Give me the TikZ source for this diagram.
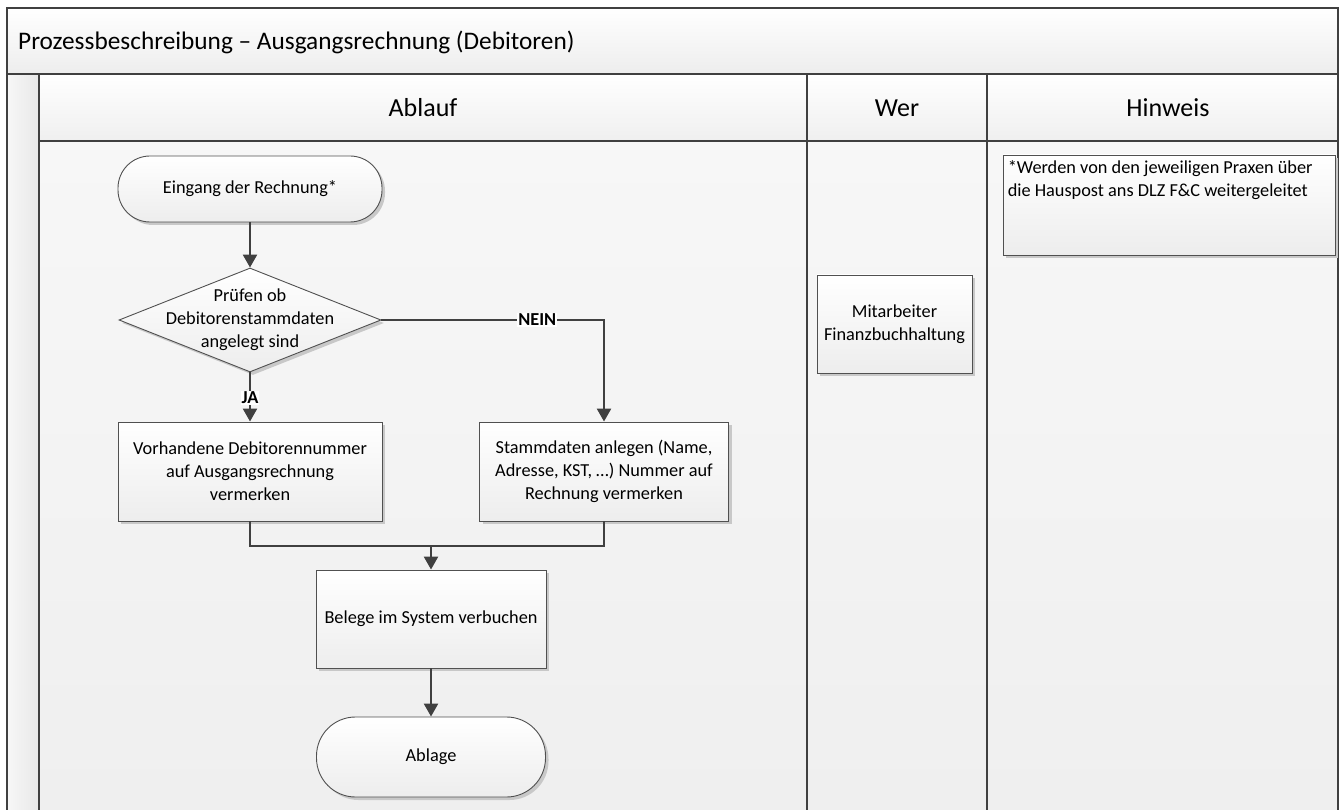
\documentclass[tikz,border=0pt]{standalone}
\usepackage{fontspec}
\setmainfont{Carlito}
\usetikzlibrary{shapes.geometric,arrows.meta,shadows}
\definecolor{ln}{HTML}{404040}
\definecolor{bd}{HTML}{505050}
\definecolor{shd}{HTML}{C8C8C8}
\definecolor{fillbot}{HTML}{EDEDED}
\definecolor{bgtop}{HTML}{F7F7F7}
\definecolor{bgbot}{HTML}{EFEFEF}
\begin{document}
\begin{tikzpicture}[x=1pt,y=-1pt,
  frame/.style={draw=ln,line width=1.5pt},
  txt/.style={font=\fontsize{18.3}{23}\selectfont,align=center,inner sep=0pt},
  hdr/.style={font=\fontsize{26}{30}\selectfont,inner sep=0pt},
  shapebox/.style={draw=bd,line width=0.9pt,top color=white,bottom color=fillbot,
    drop shadow={shadow xshift=3pt,shadow yshift=-3pt,fill=shd,opacity=1},
    txt},
  procbox/.style={shapebox,rectangle},
  termbox/.style={shapebox,rectangle,rounded corners=32pt},
  conn/.style={draw=ln,line width=2.5pt,-{Triangle[length=13pt,width=14pt]}},
  plain/.style={draw=ln,line width=2.5pt},
  lbl/.style={font=\fontsize{18.3}{22}\selectfont\bfseries,fill=white,inner sep=1pt}]
\useasboundingbox (0,0) rectangle (1339,810);
\fill[white] (0,0) rectangle (1339,810);
% title band
\shade[top color=white,bottom color=fillbot] (7,8) rectangle (1338,74);
% left strip
\shade[left color=bgtop,right color=gray!18] (7,74) rectangle (39,810);
% header cells
\shade[top color=white,bottom color=bgbot] (39,74) rectangle (1338,141);
% body
\shade[top color=bgtop,bottom color=bgbot] (39,141) rectangle (1338,810);
% frame lines
\draw[frame] (7,812) -- (7,8) -- (1338,8) -- (1338,812);
\draw[frame] (7,74) -- (1338,74);
\draw[frame] (39,141) -- (1338,141);
\draw[frame] (39,74) -- (39,812);
\draw[frame] (807,74) -- (807,812);
\draw[frame] (987,74) -- (987,812);

\node (title) [anchor=base west,font=\fontsize{25.3}{30}\selectfont,inner sep=0pt] at (18,50) {Prozessbeschreibung – Ausgangsrechnung (Debitoren)};
\node (hablauf) [hdr] at (423,108) {Ablauf};
\node (hwer) [hdr] at (897,108) {Wer};
\node (hhinweis) [hdr] at (1168,108) {Hinweis};

% flow nodes
\node (start) [termbox,minimum width=264pt,minimum height=66pt] at (250,189) {Eingang der Rechnung*};
\node (dec) [diamond,draw=bd,line width=0.9pt,top color=white,bottom color=fillbot,
    drop shadow={shadow xshift=3pt,shadow yshift=-3pt,fill=shd,opacity=1},
    minimum width=262pt,minimum height=104pt,inner sep=0pt,aspect=2.52] at (250,320) {};
\node (dectext) [txt] at (dec.center) {Prüfen ob\\Debitorenstammdaten\\angelegt sind};
\node (vorh) [procbox,minimum width=264pt,minimum height=99pt] at (250,471.5) {Vorhandene Debitorennummer\\auf Ausgangsrechnung\\vermerken};
\node (stamm) [procbox,minimum width=249pt,minimum height=99pt] at (604,471.5) {Stammdaten anlegen (Name,\\Adresse, KST, …) Nummer auf\\Rechnung vermerken};
\node (beleg) [procbox,minimum width=230pt,minimum height=98pt] at (431,619) {Belege im System verbuchen};
\node (ablage) [termbox,rounded corners=39pt,minimum width=229pt,minimum height=80pt] at (431,757) {Ablage};

% Wer / Hinweis
\node (wer) [procbox,minimum width=155pt,minimum height=98pt] at (894.5,324) {Mitarbeiter\\Finanzbuchhaltung};
\node (hinw) [procbox,minimum width=332pt,minimum height=100pt] at (1169,205) {};
\node (hinwtext) [txt,align=left,anchor=north west] at ([xshift=5pt,yshift=-6pt]hinw.north west) {*Werden von den jeweiligen Praxen über\\die Hauspost ans DLZ F\&C weitergeleitet};

% connectors
\draw[conn] (start.south) -- (dec.north);
\draw[conn] (dec.south) -- node[lbl,pos=0.52] {JA} (vorh.north);
\draw[conn] (dec.east) -- node[lbl,pos=0.7] {NEIN} (dec.east -| stamm.north) -- (stamm.north);
\coordinate (merge) at (431,546);
\draw[plain] (vorh.south) -- (vorh.south |- merge) -- (stamm.south |- merge) -- (stamm.south);
\draw[conn] (merge) -- (beleg.north);
\draw[conn] (beleg.south) -- (ablage.north);
\end{tikzpicture}
\end{document}
